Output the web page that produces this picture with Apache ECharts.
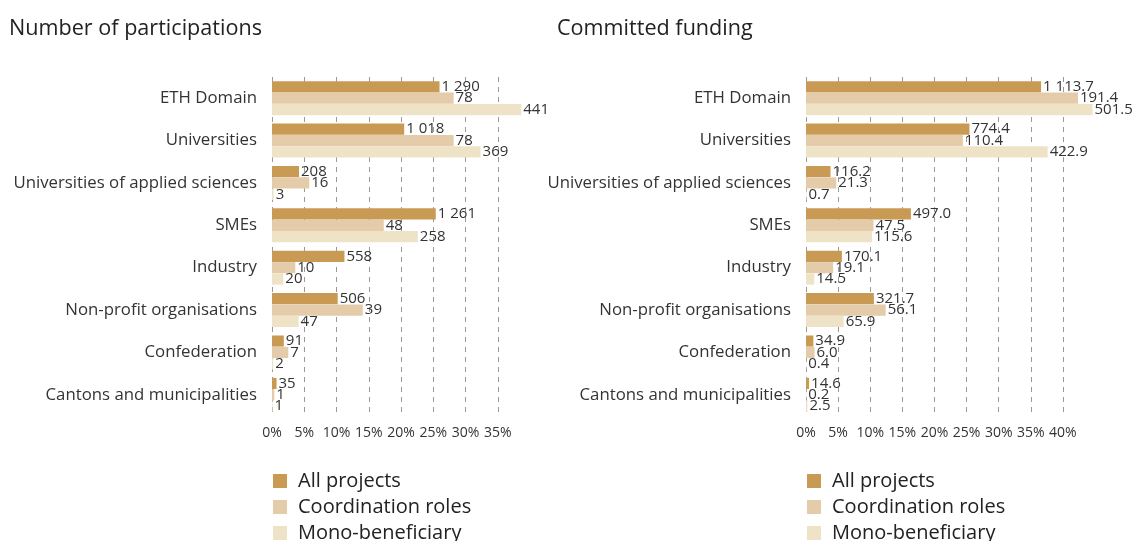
<!DOCTYPE html>
<html>
<head>
<meta charset="utf-8">
<script src="https://cdn.jsdelivr.net/npm/echarts@6/dist/echarts.min.js"></script>
<style>
  html, body { margin: 0; padding: 0; background: #fff; }
  #chart { width: 1137px; height: 541px; }
</style>
</head>
<body>
<div id="chart"></div>
<script>
const categories = ['ETH Domain', 'Universities', 'Universities of applied sciences', 'SMEs',
  'Industry', 'Non-profit organisations', 'Confederation', 'Cantons and municipalities'];
const seriesNames = ['All projects', 'Coordination roles', 'Mono-beneficiary'];
const colors = ['#c99a54', '#e4cbaa', '#efe3c7'];

// number of participations
const partAll = [1290, 1018, 208, 1261, 558, 506, 91, 35];
const partCoord = [78, 78, 16, 48, 10, 39, 7, 1];
const partMono = [441, 369, 3, 258, 20, 47, 2, 1];

// committed funding
const fundAll = [1113.7, 774.4, 116.2, 497.0, 170.1, 321.7, 34.9, 14.6];
const fundCoord = [191.4, 110.4, 21.3, 47.5, 19.1, 56.1, 6.0, 0.2];
const fundMono = [501.5, 422.9, 0.7, 115.6, 14.5, 65.9, 0.4, 2.5];

const font = 'Open Sans';

function fmt(v, dec) {
  const s = v.toFixed(dec);
  const parts = s.split('.');
  parts[0] = parts[0].replace(/\B(?=(\d{3})+(?!\d))/g, ' ');
  return parts.join('.');
}

// bar length = share of the column total, label = absolute value
function shares(arr) {
  const total = arr.reduce((a, b) => a + b, 0);
  return arr.map(v => ({ value: v / total * 100, raw: v }));
}

function makeSeries(name, arr, idx, color, dec) {
  return {
    name: name,
    type: 'bar',
    xAxisIndex: idx,
    yAxisIndex: idx,
    data: shares(arr),
    barGap: '2%',
    barCategoryGap: '20%',
    itemStyle: { color: color },
    label: {
      show: true,
      position: 'right',
      distance: 2,
      fontFamily: font,
      fontSize: 15,
      color: '#333',
      formatter: p => fmt(p.data.raw, dec)
    },
    emphasis: { disabled: true }
  };
}

function xAxis(idx, max) {
  return {
    type: 'value',
    gridIndex: idx,
    min: 0,
    max: max,
    interval: 5,
    axisLine: { show: false },
    axisTick: { show: false },
    axisLabel: {
      fontFamily: font, fontSize: 14, color: '#333', margin: 10,
      showMaxLabel: false,
      formatter: '{value}%'
    },
    splitLine: {
      show: true,
      showMaxLine: false,
      lineStyle: { type: [5, 5], color: '#999', width: 1 }
    }
  };
}

function yAxis(idx) {
  return {
    type: 'category',
    gridIndex: idx,
    data: categories,
    inverse: true,
    axisLine: { show: false },
    axisTick: { show: false },
    axisLabel: { fontFamily: font, fontSize: 16.8, color: '#333', margin: 15 }
  };
}

function legend(left) {
  return {
    orient: 'vertical',
    left: left,
    top: 466,
    height: 120,
    itemWidth: 14,
    itemHeight: 14,
    itemGap: 6,
    icon: 'rect',
    selectedMode: false,
    data: seriesNames,
    textStyle: { fontFamily: font, fontSize: 20, color: '#222', padding: [0, 0, 0, 6] }
  };
}

const chart = echarts.init(document.getElementById('chart'));
chart.setOption({
  animation: false,
  title: [
    { text: 'Number of participations', left: 4, top: 13,
      textStyle: { fontFamily: font, fontSize: 21.6, fontWeight: 'normal', color: '#222' } },
    { text: 'Committed funding', left: 552, top: 13,
      textStyle: { fontFamily: font, fontSize: 21.6, fontWeight: 'normal', color: '#222' } }
  ],
  legend: [legend(268), legend(802)],
  grid: [
    { left: 272, top: 77, width: 258, height: 339 },
    { left: 806, top: 77, width: 289, height: 339 }
  ],
  xAxis: [xAxis(0, 40), xAxis(1, 45)],
  yAxis: [yAxis(0), yAxis(1)],
  series: [
    makeSeries(seriesNames[0], partAll, 0, colors[0], 0),
    makeSeries(seriesNames[1], partCoord, 0, colors[1], 0),
    makeSeries(seriesNames[2], partMono, 0, colors[2], 0),
    makeSeries(seriesNames[0], fundAll, 1, colors[0], 1),
    makeSeries(seriesNames[1], fundCoord, 1, colors[1], 1),
    makeSeries(seriesNames[2], fundMono, 1, colors[2], 1)
  ]
});
</script>
</body>
</html>
